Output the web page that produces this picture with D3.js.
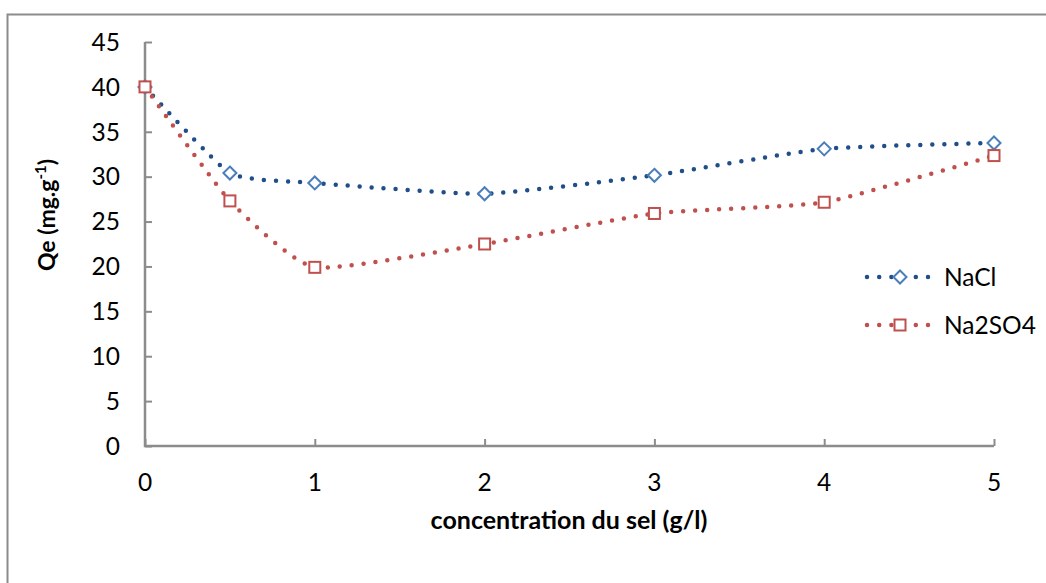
<!DOCTYPE html>
<html>
<head>
<meta charset="utf-8">
<script src="https://cdn.jsdelivr.net/npm/d3@7"></script>
<style>
  html, body { margin: 0; padding: 0; background: #fff; }
  svg { display: block; font-family: Lato, "Open Sans", sans-serif; }
</style>
</head>
<body>
<svg id="chart" width="1046" height="583"></svg>
<script>
const concentrations = [0, 0.5, 1, 2, 3, 4, 5];
const naclValues = [40, 30.4, 29.3, 28.1, 30.15, 33.1, 33.75];
const na2so4Values = [40, 27.3, 19.9, 22.5, 25.9, 27.15, 32.35];
const xTicks = [0, 1, 2, 3, 4, 5];
const yTicks = [0, 5, 10, 15, 20, 25, 30, 35, 40, 45];

const series = [
  { name: "NaCl", values: naclValues, line: "#1f4e89", marker: "#4a7ebb", shape: "diamond" },
  { name: "Na2SO4", values: na2so4Values, line: "#c0504d", marker: "#c0504d", shape: "square" },
];

const svg = d3.select("#chart");
const axisColor = "#8c8c8c";

// outer chart border (runs off the right and bottom edges)
svg.append("rect")
  .attr("x", 7.5).attr("y", 14.5)
  .attr("width", 1100).attr("height", 700)
  .attr("fill", "none").attr("stroke", axisColor).attr("stroke-width", 2);

const x = d3.scaleLinear().domain([0, 5]).range([145, 994]);
const y = d3.scaleLinear().domain([0, 45]).range([446, 42]);

// axes with inside ticks
const gx = svg.append("g").attr("transform", `translate(0,${y(0)})`)
  .call(d3.axisTop(x).tickValues(xTicks).tickSize(7).tickFormat(""));
gx.select(".domain").remove();
gx.selectAll("line").attr("stroke", axisColor).attr("stroke-width", 2);
const gy = svg.append("g").attr("transform", `translate(${x(0)},0)`)
  .call(d3.axisRight(y).tickValues(yTicks).tickSize(7).tickFormat(""));
gy.select(".domain").remove();
gy.selectAll("line").attr("stroke", axisColor).attr("stroke-width", 2);

svg.append("path")
  .attr("d", `M${x(0)},${y(45)}V${y(0)}H${x(5)}`)
  .attr("fill", "none").attr("stroke", axisColor).attr("stroke-width", 2.5);

svg.append("g").selectAll("text").data(yTicks).join("text")
  .attr("x", 120).attr("y", (d) => y(d)).attr("dy", "0.36em")
  .attr("text-anchor", "end").attr("font-size", 24.5).attr("fill", "#000")
  .text((d) => d);

svg.append("g").selectAll("text").data(xTicks).join("text")
  .attr("x", (d) => x(d)).attr("y", 482).attr("dy", "0.36em")
  .attr("text-anchor", "middle").attr("font-size", 24.5).attr("fill", "#000")
  .text((d) => d);

svg.append("text")
  .attr("x", 569).attr("y", 520).attr("dy", "0.36em")
  .attr("text-anchor", "middle").attr("font-size", 25).attr("font-weight", 700)
  .text("concentration du sel (g/l)");

const yTitle = svg.append("text")
  .attr("transform", "translate(47,215) rotate(-90)")
  .attr("dy", "0.36em")
  .attr("text-anchor", "middle").attr("font-size", 23).attr("font-weight", 700);
yTitle.append("tspan").text("Qe (mg.g");
yTitle.append("tspan").attr("font-size", 15).attr("dy", "-0.6em").text("-1");
yTitle.append("tspan").attr("dy", "0.4em").text(")");

// Excel-like smoothing: gentle rounding at vertices, little overshoot
const line = d3.line()
  .x((d, i) => x(concentrations[i]))
  .y((d) => y(d))
  .curve(d3.curveCardinal.tension(0.5));

function drawMarker(g, shape, cx, cy, color) {
  if (shape === "diamond") {
    g.append("path")
      .attr("d", `M${cx},${cy - 6.5}L${cx + 6.5},${cy}L${cx},${cy + 6.5}L${cx - 6.5},${cy}Z`)
      .attr("fill", "#fff").attr("stroke", color).attr("stroke-width", 2);
  } else {
    g.append("rect")
      .attr("x", cx - 5.5).attr("y", cy - 5.5).attr("width", 11).attr("height", 11)
      .attr("fill", "#fff").attr("stroke", color).attr("stroke-width", 2);
  }
}

series.forEach((s) => {
  svg.append("path")
    .attr("d", line(s.values))
    .attr("fill", "none").attr("stroke", s.line)
    .attr("stroke-width", 4.5).attr("stroke-linecap", "round")
    .attr("stroke-dasharray", "0 12");
});

series.forEach((s) => {
  const g = svg.append("g");
  s.values.forEach((v, i) => drawMarker(g, s.shape, x(concentrations[i]), y(v), s.marker));
});

// legend
const legendY = [277, 325];
series.forEach((s, i) => {
  const g = svg.append("g");
  const ly = legendY[i];
  g.append("line")
    .attr("x1", 867).attr("x2", 930).attr("y1", ly).attr("y2", ly)
    .attr("stroke", s.line).attr("stroke-width", 4.5)
    .attr("stroke-linecap", "round").attr("stroke-dasharray", "0 12.2");
  drawMarker(g, s.shape, 900, ly, s.marker);
  g.append("text")
    .attr("x", 944).attr("y", ly).attr("dy", "0.36em")
    .attr("font-size", 24.5).attr("fill", "#000")
    .text(s.name);
});
</script>
</body>
</html>
